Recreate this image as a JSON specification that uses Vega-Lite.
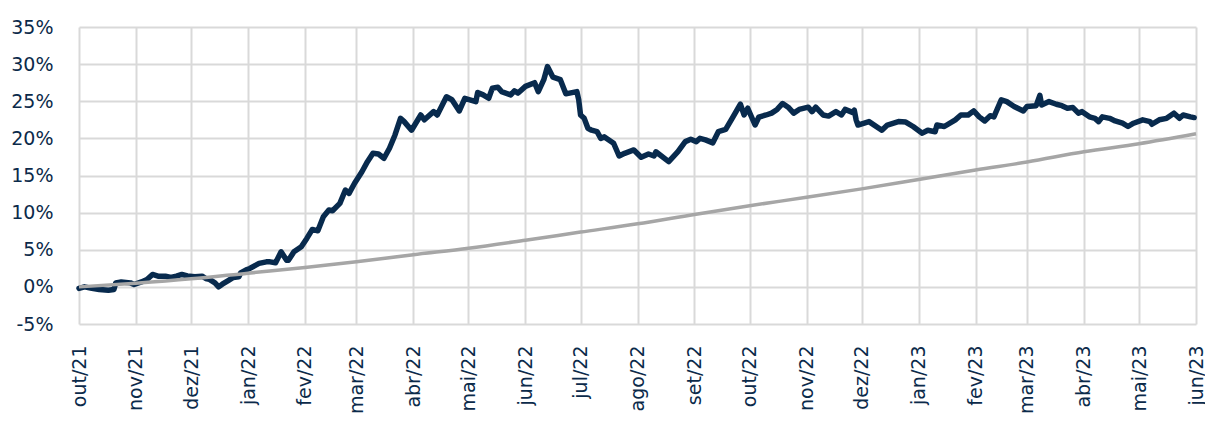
{
  "$schema": "https://vega.github.io/schema/vega-lite/v6.json",
  "width": 1117,
  "height": 297,
  "autosize": {"type": "none"},
  "padding": {"left": 79, "top": 27, "right": 9, "bottom": 99},
  "background": "white",
  "config": {
    "view": {"stroke": null},
    "axis": {"labelFont": "DejaVu Sans", "labelColor": "#0b2a4a", "labelFontSize": 19, "gridColor": "#d9d9d9", "gridWidth": 2, "domain": false, "ticks": false, "title": null}
  },
  "datasets": {
    "fund": [
      {"d": "2021-10-01", "v": -0.2}, {"d": "2021-10-04", "v": 0.0}, {"d": "2021-10-08", "v": -0.2}, {"d": "2021-10-12", "v": -0.35},
      {"d": "2021-10-17", "v": -0.45}, {"d": "2021-10-20", "v": -0.35}, {"d": "2021-10-21", "v": 0.54}, {"d": "2021-10-24", "v": 0.67},
      {"d": "2021-10-29", "v": 0.54}, {"d": "2021-10-31", "v": 0.32}, {"d": "2021-11-04", "v": 0.67}, {"d": "2021-11-07", "v": 1.0},
      {"d": "2021-11-10", "v": 1.67}, {"d": "2021-11-13", "v": 1.44}, {"d": "2021-11-17", "v": 1.44}, {"d": "2021-11-20", "v": 1.27},
      {"d": "2021-11-23", "v": 1.44}, {"d": "2021-11-26", "v": 1.67}, {"d": "2021-11-29", "v": 1.48}, {"d": "2021-12-03", "v": 1.35},
      {"d": "2021-12-07", "v": 1.44}, {"d": "2021-12-09", "v": 1.13}, {"d": "2021-12-11", "v": 1.0}, {"d": "2021-12-14", "v": 0.54},
      {"d": "2021-12-16", "v": 0.0}, {"d": "2021-12-18", "v": 0.36}, {"d": "2021-12-21", "v": 0.81}, {"d": "2021-12-24", "v": 1.27},
      {"d": "2021-12-27", "v": 1.35}, {"d": "2021-12-28", "v": 1.89}, {"d": "2021-12-31", "v": 2.3}, {"d": "2022-01-02", "v": 2.48},
      {"d": "2022-01-05", "v": 2.9}, {"d": "2022-01-07", "v": 3.16}, {"d": "2022-01-11", "v": 3.37}, {"d": "2022-01-13", "v": 3.37},
      {"d": "2022-01-16", "v": 3.24}, {"d": "2022-01-19", "v": 4.72}, {"d": "2022-01-22", "v": 3.6}, {"d": "2022-01-23", "v": 3.6},
      {"d": "2022-01-26", "v": 4.72}, {"d": "2022-01-30", "v": 5.4}, {"d": "2022-02-02", "v": 6.53}, {"d": "2022-02-05", "v": 7.74},
      {"d": "2022-02-08", "v": 7.55}, {"d": "2022-02-11", "v": 9.44}, {"d": "2022-02-14", "v": 10.35}, {"d": "2022-02-16", "v": 10.25},
      {"d": "2022-02-20", "v": 11.25}, {"d": "2022-02-23", "v": 13.04}, {"d": "2022-02-25", "v": 12.6}, {"d": "2022-02-28", "v": 13.95},
      {"d": "2022-03-04", "v": 15.5}, {"d": "2022-03-07", "v": 16.86}, {"d": "2022-03-10", "v": 18.0}, {"d": "2022-03-13", "v": 17.9},
      {"d": "2022-03-16", "v": 17.32}, {"d": "2022-03-19", "v": 18.67}, {"d": "2022-03-22", "v": 20.46}, {"d": "2022-03-25", "v": 22.7},
      {"d": "2022-03-27", "v": 22.26}, {"d": "2022-03-31", "v": 21.1}, {"d": "2022-04-05", "v": 23.15}, {"d": "2022-04-07", "v": 22.5},
      {"d": "2022-04-12", "v": 23.6}, {"d": "2022-04-14", "v": 23.15}, {"d": "2022-04-19", "v": 25.6}, {"d": "2022-04-22", "v": 25.2},
      {"d": "2022-04-26", "v": 23.7}, {"d": "2022-04-29", "v": 25.4}, {"d": "2022-05-05", "v": 24.95}, {"d": "2022-05-06", "v": 26.17},
      {"d": "2022-05-09", "v": 25.86}, {"d": "2022-05-12", "v": 25.4}, {"d": "2022-05-14", "v": 26.76}, {"d": "2022-05-17", "v": 26.9},
      {"d": "2022-05-19", "v": 26.3}, {"d": "2022-05-24", "v": 25.86}, {"d": "2022-05-26", "v": 26.4}, {"d": "2022-05-28", "v": 26.1},
      {"d": "2022-06-01", "v": 27.0}, {"d": "2022-06-06", "v": 27.5}, {"d": "2022-06-08", "v": 26.3}, {"d": "2022-06-11", "v": 27.9},
      {"d": "2022-06-13", "v": 29.67}, {"d": "2022-06-16", "v": 28.24}, {"d": "2022-06-20", "v": 27.9}, {"d": "2022-06-23", "v": 26.0},
      {"d": "2022-06-29", "v": 26.3}, {"d": "2022-06-30", "v": 25.2}, {"d": "2022-07-01", "v": 23.15}, {"d": "2022-07-03", "v": 22.7},
      {"d": "2022-07-05", "v": 21.36}, {"d": "2022-07-07", "v": 21.1}, {"d": "2022-07-10", "v": 20.9}, {"d": "2022-07-12", "v": 20.0},
      {"d": "2022-07-14", "v": 20.2}, {"d": "2022-07-19", "v": 19.34}, {"d": "2022-07-22", "v": 17.63}, {"d": "2022-07-25", "v": 17.99},
      {"d": "2022-07-30", "v": 18.44}, {"d": "2022-08-03", "v": 17.45}, {"d": "2022-08-07", "v": 17.9}, {"d": "2022-08-10", "v": 17.63},
      {"d": "2022-08-11", "v": 18.2}, {"d": "2022-08-18", "v": 16.86}, {"d": "2022-08-23", "v": 18.2}, {"d": "2022-08-27", "v": 19.56},
      {"d": "2022-08-30", "v": 19.88}, {"d": "2022-09-02", "v": 19.56}, {"d": "2022-09-04", "v": 20.0}, {"d": "2022-09-07", "v": 19.8},
      {"d": "2022-09-11", "v": 19.4}, {"d": "2022-09-14", "v": 20.9}, {"d": "2022-09-18", "v": 21.2}, {"d": "2022-09-22", "v": 22.9},
      {"d": "2022-09-26", "v": 24.6}, {"d": "2022-09-28", "v": 23.15}, {"d": "2022-09-30", "v": 24.06}, {"d": "2022-10-04", "v": 21.8},
      {"d": "2022-10-06", "v": 22.85}, {"d": "2022-10-10", "v": 23.15}, {"d": "2022-10-13", "v": 23.4}, {"d": "2022-10-16", "v": 23.9},
      {"d": "2022-10-19", "v": 24.7}, {"d": "2022-10-22", "v": 24.2}, {"d": "2022-10-25", "v": 23.4}, {"d": "2022-10-28", "v": 23.9},
      {"d": "2022-11-02", "v": 24.2}, {"d": "2022-11-04", "v": 23.6}, {"d": "2022-11-06", "v": 24.2}, {"d": "2022-11-10", "v": 23.15},
      {"d": "2022-11-13", "v": 23.0}, {"d": "2022-11-17", "v": 23.6}, {"d": "2022-11-20", "v": 23.15}, {"d": "2022-11-22", "v": 23.9},
      {"d": "2022-11-26", "v": 23.5}, {"d": "2022-11-27", "v": 23.8}, {"d": "2022-11-28", "v": 22.5}, {"d": "2022-11-29", "v": 21.8},
      {"d": "2022-12-05", "v": 22.26}, {"d": "2022-12-12", "v": 21.1}, {"d": "2022-12-15", "v": 21.8}, {"d": "2022-12-21", "v": 22.26},
      {"d": "2022-12-25", "v": 22.2}, {"d": "2022-12-29", "v": 21.6}, {"d": "2023-01-03", "v": 20.7}, {"d": "2023-01-06", "v": 21.1},
      {"d": "2023-01-10", "v": 20.9}, {"d": "2023-01-11", "v": 21.8}, {"d": "2023-01-15", "v": 21.6}, {"d": "2023-01-21", "v": 22.5},
      {"d": "2023-01-24", "v": 23.15}, {"d": "2023-01-28", "v": 23.15}, {"d": "2023-01-31", "v": 23.7}, {"d": "2023-02-03", "v": 22.9},
      {"d": "2023-02-06", "v": 22.35}, {"d": "2023-02-09", "v": 23.06}, {"d": "2023-02-11", "v": 22.9}, {"d": "2023-02-15", "v": 25.2},
      {"d": "2023-02-18", "v": 24.95}, {"d": "2023-02-22", "v": 24.3}, {"d": "2023-02-27", "v": 23.7}, {"d": "2023-03-01", "v": 24.3},
      {"d": "2023-03-06", "v": 24.4}, {"d": "2023-03-08", "v": 25.8}, {"d": "2023-03-09", "v": 24.5}, {"d": "2023-03-13", "v": 24.95},
      {"d": "2023-03-17", "v": 24.6}, {"d": "2023-03-20", "v": 24.4}, {"d": "2023-03-23", "v": 24.06}, {"d": "2023-03-26", "v": 24.15},
      {"d": "2023-03-29", "v": 23.4}, {"d": "2023-03-31", "v": 23.6}, {"d": "2023-04-04", "v": 22.9}, {"d": "2023-04-07", "v": 22.7},
      {"d": "2023-04-09", "v": 22.26}, {"d": "2023-04-11", "v": 22.9}, {"d": "2023-04-15", "v": 22.7}, {"d": "2023-04-18", "v": 22.35},
      {"d": "2023-04-22", "v": 22.04}, {"d": "2023-04-25", "v": 21.6}, {"d": "2023-04-28", "v": 22.04}, {"d": "2023-05-03", "v": 22.5},
      {"d": "2023-05-07", "v": 22.26}, {"d": "2023-05-08", "v": 21.9}, {"d": "2023-05-12", "v": 22.5}, {"d": "2023-05-16", "v": 22.7},
      {"d": "2023-05-20", "v": 23.4}, {"d": "2023-05-23", "v": 22.7}, {"d": "2023-05-25", "v": 23.15}, {"d": "2023-05-29", "v": 22.9},
      {"d": "2023-05-31", "v": 22.8}
    ],
    "cdi": [
      {"d": "2021-10-01", "v": 0.0}, {"d": "2021-11-01", "v": 0.49}, {"d": "2021-12-01", "v": 1.08}, {"d": "2022-01-01", "v": 1.85},
      {"d": "2022-02-01", "v": 2.6}, {"d": "2022-03-01", "v": 3.38}, {"d": "2022-04-01", "v": 4.34}, {"d": "2022-05-01", "v": 5.21},
      {"d": "2022-06-01", "v": 6.29}, {"d": "2022-07-01", "v": 7.38}, {"d": "2022-08-01", "v": 8.49}, {"d": "2022-09-01", "v": 9.76},
      {"d": "2022-10-01", "v": 10.93}, {"d": "2022-11-01", "v": 12.06}, {"d": "2022-12-01", "v": 13.2}, {"d": "2023-01-01", "v": 14.47},
      {"d": "2023-02-01", "v": 15.75}, {"d": "2023-03-01", "v": 16.82}, {"d": "2023-04-01", "v": 18.19}, {"d": "2023-05-01", "v": 19.28},
      {"d": "2023-06-01", "v": 20.62}
    ]
  },
  "encoding": {
    "x": {
      "field": "d", "type": "temporal",
      "scale": {"type": "utc", "nice": false, "domain": [{"year": 2021, "month": 10, "date": 1, "utc": true}, {"year": 2023, "month": 6, "date": 1, "utc": true}]},
      "axis": {
        "tickCount": {"interval": "month", "step": 1},
        "labelAngle": -90, "labelAlign": "right", "labelBaseline": "middle", "labelPadding": 21,
        "labelOverlap": false, "labelBound": false, "labelFlush": false,
        "labelExpr": "['jan','fev','mar','abr','mai','jun','jul','ago','set','out','nov','dez'][utcmonth(datum.value)] + '/' + utcFormat(datum.value, '%y')"
      }
    },
    "y": {
      "field": "v", "type": "quantitative",
      "scale": {"domain": [-5, 35], "nice": false, "zero": false},
      "axis": {"values": [-5, 0, 5, 10, 15, 20, 25, 30, 35], "labelPadding": 26, "labelExpr": "datum.value + '%'"}
    }
  },
  "layer": [
    {"data": {"name": "fund"}, "mark": {"type": "line", "color": "#082a4d", "strokeWidth": 5.5, "strokeJoin": "round", "strokeCap": "round"}},
    {"data": {"name": "cdi"}, "mark": {"type": "line", "color": "#a6a6a6", "strokeWidth": 3.5, "interpolate": "monotone"}}
  ]
}
